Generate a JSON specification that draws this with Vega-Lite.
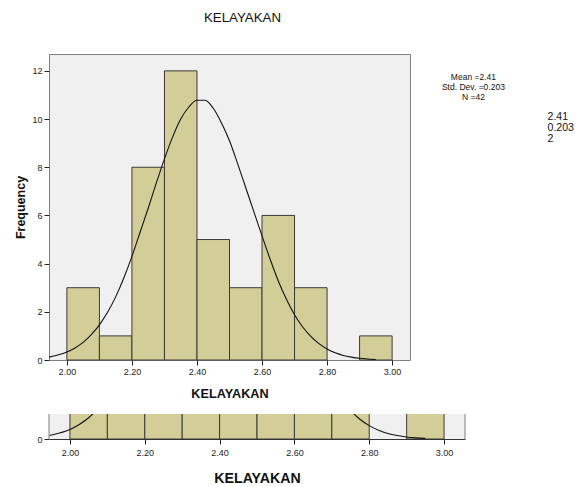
{
  "$schema": "https://vega.github.io/schema/vega-lite/v6.json",
  "background": "white",
  "padding": {"left": 14, "top": 10, "right": 0, "bottom": 0},
  "spacing": 12,
  "config": {
    "font": "Liberation Sans",
    "axis": {
      "labelFont": "Liberation Sans",
      "titleFont": "Liberation Sans",
      "labelColor": "#222",
      "titleColor": "#111",
      "tickColor": "#222",
      "domain": false,
      "grid": false,
      "tickSize": 5,
      "labelFontSize": 9,
      "labelPadding": 2
    },
    "title": {"font": "Liberation Sans", "color": "#111"}
  },
  "datasets": {
    "bins": [
      {"bin_start": 2.0, "bin_end": 2.1, "count": 3},
      {"bin_start": 2.1, "bin_end": 2.2, "count": 1},
      {"bin_start": 2.2, "bin_end": 2.3, "count": 8},
      {"bin_start": 2.3, "bin_end": 2.4, "count": 12},
      {"bin_start": 2.4, "bin_end": 2.5, "count": 5},
      {"bin_start": 2.5, "bin_end": 2.6, "count": 3},
      {"bin_start": 2.6, "bin_end": 2.7, "count": 6},
      {"bin_start": 2.7, "bin_end": 2.8, "count": 3},
      {"bin_start": 2.9, "bin_end": 3.0, "count": 1}
    ],
    "curve": [
      {"x": 1.945, "freq": 0.12},
      {"x": 1.97, "freq": 0.2},
      {"x": 2.0, "freq": 0.33},
      {"x": 2.025, "freq": 0.5},
      {"x": 2.05, "freq": 0.73},
      {"x": 2.075, "freq": 1.05},
      {"x": 2.1, "freq": 1.46},
      {"x": 2.125, "freq": 1.98},
      {"x": 2.15, "freq": 2.62},
      {"x": 2.175, "freq": 3.4},
      {"x": 2.2, "freq": 4.3},
      {"x": 2.225, "freq": 5.3},
      {"x": 2.25, "freq": 6.3},
      {"x": 2.275, "freq": 7.35},
      {"x": 2.3, "freq": 8.35},
      {"x": 2.325, "freq": 9.25},
      {"x": 2.35, "freq": 10.0},
      {"x": 2.375, "freq": 10.5},
      {"x": 2.4, "freq": 10.78},
      {"x": 2.425, "freq": 10.78},
      {"x": 2.45, "freq": 10.45},
      {"x": 2.475, "freq": 9.85},
      {"x": 2.5, "freq": 9.1},
      {"x": 2.525, "freq": 8.15},
      {"x": 2.55, "freq": 7.15},
      {"x": 2.575, "freq": 6.15},
      {"x": 2.6, "freq": 5.15},
      {"x": 2.625, "freq": 4.18},
      {"x": 2.65, "freq": 3.28},
      {"x": 2.675, "freq": 2.52},
      {"x": 2.7, "freq": 1.88},
      {"x": 2.725, "freq": 1.37},
      {"x": 2.75, "freq": 0.98},
      {"x": 2.775, "freq": 0.68},
      {"x": 2.8, "freq": 0.46},
      {"x": 2.825, "freq": 0.3},
      {"x": 2.85, "freq": 0.19},
      {"x": 2.875, "freq": 0.12},
      {"x": 2.9, "freq": 0.07},
      {"x": 2.925, "freq": 0.04},
      {"x": 2.95, "freq": 0.02}
    ],
    "stats": [{"t": "Mean =2.41\nStd. Dev. =0.203\nN =42"}],
    "stats_cut": [{"t": "2.41\n0.203\n2"}],
    "edges": [{"e": 1.944}, {"e": 3.056}]
  },
  "vconcat": [
    {
      "width": 361,
      "height": 306,
      "title": {"text": "KELAYAKAN", "fontSize": 13.3, "fontWeight": "normal", "anchor": "middle", "dx": 13, "offset": 29.5},
      "view": {"fill": "#f0f0f0", "stroke": "#7f7f7f", "strokeWidth": 1},
      "layer": [
        {
          "data": {"name": "bins"},
          "mark": {"type": "rect", "fill": "#d3ce97", "stroke": "#3a3a3a", "strokeWidth": 1},
          "encoding": {
            "x": {"field": "bin_start", "type": "quantitative",
              "scale": {"domain": [1.945, 3.055], "nice": false, "zero": false},
              "axis": {"title": "KELAYAKAN", "titleFontSize": 12.7, "titleFontWeight": "bold", "titlePadding": 11.5,
                       "values": [2.0, 2.2, 2.4, 2.6, 2.8, 3.0], "format": ".2f", "labelFlush": false}},
            "x2": {"field": "bin_end"},
            "y": {"field": "count", "type": "quantitative",
              "scale": {"domain": [0, 12.7], "nice": false},
              "axis": {"title": "Frequency", "titleFontSize": 12.5, "titleFontWeight": "bold", "titlePadding": 4,
                       "values": [0, 2, 4, 6, 8, 10, 12], "labelFlush": false}},
            "y2": {"datum": 0}
          }
        },
        {
          "data": {"name": "curve"},
          "mark": {"type": "line", "color": "#111", "strokeWidth": 1.1, "clip": true, "interpolate": "monotone"},
          "encoding": {
            "x": {"field": "x", "type": "quantitative"},
            "y": {"field": "freq", "type": "quantitative"}
          }
        },
        {
          "data": {"name": "stats"},
          "mark": {"type": "text", "lineBreak": "\n", "align": "center", "baseline": "top", "fontSize": 8.5, "lineHeight": 10, "color": "#111"},
          "encoding": {
            "x": {"datum": 3.25},
            "y": {"datum": 11.9},
            "text": {"field": "t"}
          }
        },
        {
          "data": {"name": "stats_cut"},
          "mark": {"type": "text", "lineBreak": "\n", "align": "left", "baseline": "top", "fontSize": 10.5, "lineHeight": 11, "color": "#111"},
          "encoding": {
            "x": {"datum": 3.478},
            "y": {"datum": 10.3},
            "text": {"field": "t"}
          }
        }
      ]
    },
    {
      "width": 416,
      "height": 25,
      "view": {"fill": "#f0f0f0", "stroke": null},
      "layer": [
        {
          "data": {"name": "bins"},
          "mark": {"type": "rect", "fill": "#d3ce97", "stroke": "#3a3a3a", "strokeWidth": 1, "clip": true},
          "encoding": {
            "x": {"field": "bin_start", "type": "quantitative",
              "scale": {"domain": [1.944, 3.056], "nice": false, "zero": false},
              "axis": {"title": "KELAYAKAN", "titleFontSize": 14.2, "titleFontWeight": "bold", "titlePadding": 14,
                       "labelPadding": 4,
                       "values": [2.0, 2.2, 2.4, 2.6, 2.8, 3.0], "format": ".2f", "labelFlush": false,
                       "domain": true, "domainColor": "#333"}},
            "x2": {"field": "bin_end"},
            "y": {"field": "count", "type": "quantitative",
              "scale": {"domain": [0, 0.86], "nice": false},
              "axis": {"title": null, "values": [0], "labelFlush": false}},
            "y2": {"datum": 0}
          }
        },
        {
          "data": {"name": "curve"},
          "mark": {"type": "line", "color": "#111", "strokeWidth": 1.1, "clip": true, "interpolate": "monotone"},
          "encoding": {
            "x": {"field": "x", "type": "quantitative"},
            "y": {"field": "freq", "type": "quantitative"}
          }
        },
        {
          "data": {"name": "edges"},
          "mark": {"type": "rule", "color": "#7f7f7f", "strokeWidth": 1},
          "encoding": {
            "x": {"field": "e", "type": "quantitative"}
          }
        }
      ]
    }
  ]
}
